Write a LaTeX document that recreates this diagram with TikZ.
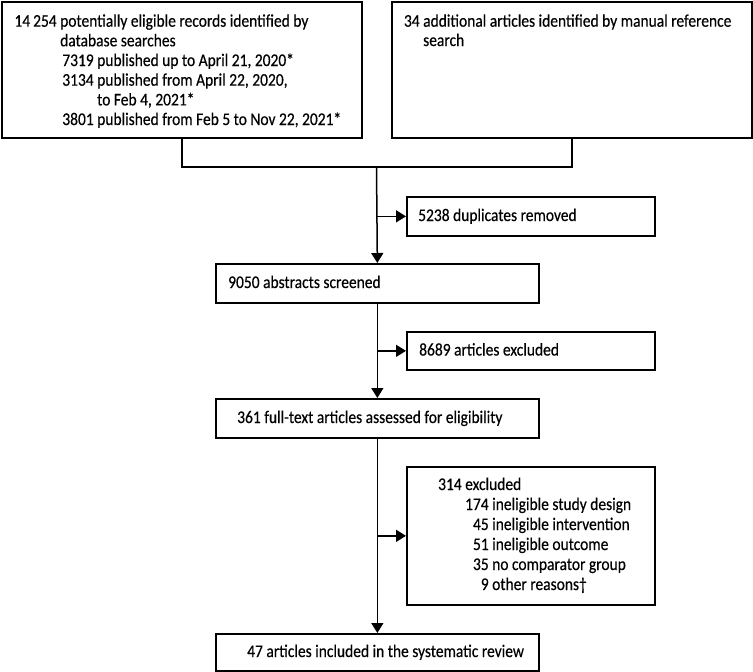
\documentclass[tikz,border=0pt]{standalone}
\usepackage{fontspec}
\setmainfont{Carlito}[FakeStretch=0.87,FakeBold=0.4]
\usetikzlibrary{arrows.meta}
\tikzset{
  box/.style={draw,line width=1.7pt,anchor=north west,inner sep=0pt},
  txt/.style={anchor=base west,inner sep=0pt,font=\fontsize{17.8}{19.7}\selectfont},
  link/.style={line width=1.5pt},
  arr/.style={link,-{Triangle[length=10pt,width=12pt]}}
}
\begin{document}
\begin{tikzpicture}[x=1pt,y=-1pt]
  \useasboundingbox (0,0) rectangle (753,672);

  \node[box,minimum width=360pt,minimum height=136pt] (recs) at (1,1) {};
  \node[txt] (recs-0) at (60,26.7) {\llap{14\,254~}potentially eligible records identified by};
  \node[txt] (recs-1) at (60,46.3) {database searches};
  \foreach \y/\n/\t [count=\i from 2] in {
      66/7319/{published up to April 21, 2020*},
      85.7/3134/{published from April 22, 2020,},
      105.4//{to Feb 4, 2021*},
      125/3801/{published from Feb 5 to Nov 22, 2021*}}{
    \node[txt] (recs-\i) at (97,\y) {\llap{\n~}\t};
  }

  \node[box,minimum width=360pt,minimum height=136pt] (manual) at (391,1) {};
  \node[txt] (manual-0) at (423,26.7) {\llap{34~}additional articles identified by manual reference};
  \node[txt] (manual-1) at (423,46) {search};

  \node[box,minimum width=248pt,minimum height=39pt] (dups) at (406,196) {};
  \node[txt] (dups-t) at (418,221) {5238 duplicates removed};

  \node[box,minimum width=323pt,minimum height=39pt] (abstr) at (215,263) {};
  \node[txt] (abstr-t) at (228,288) {9050 abstracts screened};

  \node[box,minimum width=248pt,minimum height=38pt] (excl) at (406,331) {};
  \node[txt] (excl-t) at (419,355.5) {8689 articles excluded};

  \node[box,minimum width=323pt,minimum height=39pt] (full) at (215,398) {};
  \node[txt] (full-t) at (237,423) {361 full-text articles assessed for eligibility};

  \node[box,minimum width=248pt,minimum height=138pt] (reasons) at (406,466) {};
  \node[txt] (reasons-0) at (465,490) {\llap{314~}excluded};
  \foreach \y/\n/\t [count=\i] in {
      510/174/ineligible study design,
      530/45/ineligible intervention,
      550/51/ineligible outcome,
      570/35/no comparator group,
      590/9/other reasons†}{
    \node[txt] (reasons-\i) at (492,\y) {\llap{\n~}\t};
  }

  \node[box,minimum width=323pt,minimum height=37pt] (incl) at (215,633) {};
  \node[txt] (incl-t) at (247,657) {47 articles included in the systematic review};

  % connectors
  \coordinate (join) at (376.5,167);
  \draw[link] (recs.south) |- (join) -| (manual.south);
  \draw[arr] (join) -- (abstr.north);
  \draw[arr] (join |- dups.west) -- (dups.west);
  \draw[arr] (abstr.south) -- (full.north);
  \draw[arr] (abstr.south |- excl.west) -- (excl.west);
  \draw[arr] (full.south) -- (incl.north);
  \draw[arr] (full.south |- reasons.west) -- (reasons.west);
\end{tikzpicture}
\end{document}
